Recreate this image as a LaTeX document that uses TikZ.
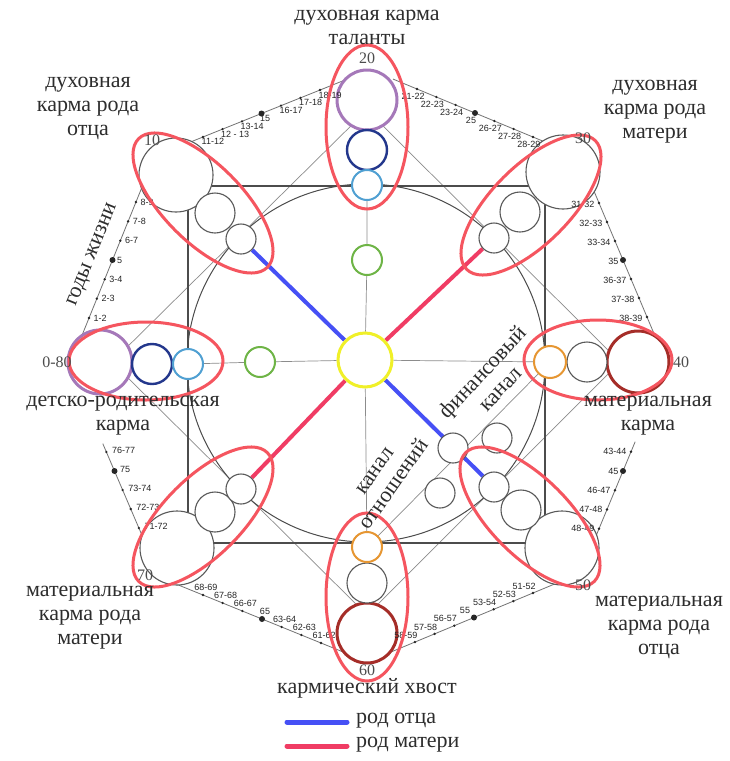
\documentclass[tikz,border=0pt]{standalone}
\usepackage{fontspec}
\setmainfont{Liberation Serif}
\newfontfamily\tickfont{Liberation Sans}
\usetikzlibrary{calc,backgrounds}
\definecolor{purpleC}{RGB}{165,120,185}
\definecolor{dblueC}{RGB}{35,55,140}
\definecolor{lblueC}{RGB}{80,160,210}
\definecolor{greenC}{RGB}{110,180,70}
\definecolor{orangeC}{RGB}{230,150,50}
\definecolor{dredC}{RGB}{165,45,40}
\definecolor{yellowC}{RGB}{240,240,40}
\definecolor{ellC}{RGB}{245,85,95}
\definecolor{blueL}{RGB}{70,80,245}
\definecolor{redL}{RGB}{240,60,100}
\definecolor{txtC}{RGB}{45,45,45}
\newcommand\edgeticks[4]{%
  \foreach \k/\t/\r in {#3}{%
    \fill[black!85] ($(#1)!\k/8!(#2)$) circle[radius=\r pt];
    \node[ticklab, #4] (#1l\k) at ($(#1)!\k/8!(#2)$) {\t};
  }%
}
\begin{document}
\begin{tikzpicture}[x=1pt,y=-1pt,
  cc/.style={circle, inner sep=0pt, fill=white},
  cgray/.style={cc, draw=black!65, line width=1.1pt},
  cpurple/.style={cc, draw=purpleC, line width=3pt},
  cdblue/.style={cc, draw=dblueC, line width=2.4pt},
  clblue/.style={cc, draw=lblueC, line width=2pt},
  cgreen/.style={cc, draw=greenC, line width=2pt},
  corange/.style={cc, draw=orangeC, line width=2pt},
  cdred/.style={cc, draw=dredC, line width=3pt},
  cyellow/.style={cc, draw=yellowC, line width=3pt},
  redell/.style={draw=ellC, line width=3pt},
  thinline/.style={draw=black!45, line width=0.7pt},
  edgeline/.style={draw=black!55, line width=0.8pt},
  sqline/.style={draw=black!70, line width=1.4pt},
  bigcirc/.style={draw=black!70, line width=1pt},
  bluethick/.style={draw=blueL, line width=4pt},
  redthick/.style={draw=redL, line width=4pt},
  ticklab/.style={font=\tickfont\fontsize{9}{10}\selectfont, inner sep=0.5pt, text=black!85},
  lab/.style={font=\fontsize{22}{24}\selectfont, align=center, text=txtC, inner sep=1pt},
  num/.style={font=\fontsize{16}{18}\selectfont, text=black!70, inner sep=1pt}
]
\useasboundingbox (0,0) rectangle (730,761);

% ---------- circles ----------
\node[cyellow, minimum size=54pt] (c) at (365,360) {};
% top (20)
\node[cpurple, minimum size=60pt] (t1) at (367,100) {};
\node[cdblue, minimum size=40pt] (t2) at (367,150) {};
\node[clblue, minimum size=30pt] (t3) at (367,185) {};
\node[cgreen, minimum size=30pt] (t4) at (367,260) {};
% left (0-80)
\node[cpurple, minimum size=64pt] (l1) at (100,362) {};
\node[cdblue, minimum size=40pt] (l2) at (152,364) {};
\node[clblue, minimum size=30pt] (l3) at (188,364) {};
\node[cgreen, minimum size=30pt] (l4) at (260,362) {};
% right (40)
\node[cdred, minimum size=62pt] (r1) at (638,362) {};
\node[cgray, minimum size=40pt] (r2) at (587,362) {};
\node[corange, minimum size=32pt] (r3) at (550,362) {};
% bottom (60)
\node[cdred, minimum size=60pt] (b1) at (367,633) {};
\node[cgray, minimum size=40pt] (b2) at (367,583) {};
\node[corange, minimum size=30pt] (b3) at (367,547) {};
% diagonals
\node[cgray, minimum size=74pt] (d10a) at (176,175) {};
\node[cgray, minimum size=40pt] (d10b) at (215,213) {};
\node[cgray, minimum size=30pt] (d10c) at (241,239) {};
\node[cgray, minimum size=74pt] (d30a) at (563,172) {};
\node[cgray, minimum size=40pt] (d30b) at (520,212) {};
\node[cgray, minimum size=30pt] (d30c) at (494,238) {};
\node[cgray, minimum size=74pt] (d50a) at (562,548) {};
\node[cgray, minimum size=40pt] (d50b) at (521,510) {};
\node[cgray, minimum size=30pt] (d50c) at (494,487) {};
\node[cgray, minimum size=74pt] (d70a) at (177,548) {};
\node[cgray, minimum size=40pt] (d70b) at (215,512) {};
\node[cgray, minimum size=30pt] (d70c) at (241,489) {};
% channel circles
\node[cgray, minimum size=30pt] (ch1) at (453,448) {};
\node[cgray, minimum size=30pt] (ch2) at (497,438) {};
\node[cgray, minimum size=30pt] (ch3) at (440,493) {};

% ---------- coordinates ----------
\coordinate (dl) at (112,362);
\coordinate (dt) at (367,110);
\coordinate (dr) at (620,362);
\coordinate (db) at (367,615);
\coordinate (sq1) at (188,186);
\coordinate (sq2) at (545,543);
\coordinate (oc) at (366,363);
\coordinate (e1a) at (81.2,337.3);  \coordinate (e1b) at (143.8,182.7);
\coordinate (e2a) at (183.5,144.8); \coordinate (e2b) at (339.5,82.2);
\coordinate (e3a) at (397.7,81);    \coordinate (e3b) at (552.3,145);
\coordinate (e4a) at (591,184);     \coordinate (e4b) at (655,336);
\coordinate (e5a) at (655,394);     \coordinate (e5b) at (591,548);
\coordinate (e6a) at (552.7,584.8); \coordinate (e6b) at (395.3,650.2);
\coordinate (e7a) at (340.7,651);   \coordinate (e7b) at (183.3,587);
\coordinate (e8a) at (147,547);     \coordinate (e8b) at (82,395);

\begin{pgfonlayer}{background}
  \fill[white] (0,0) rectangle (730,761);
  % octagon edges
  \draw[edgeline] ($(e1a)!-0.1!(e1b)$) -- ($(e1a)!1.1!(e1b)$);
  \draw[edgeline] ($(e2a)!-0.1!(e2b)$) -- ($(e2a)!1.03!(e2b)$);
  \draw[edgeline] ($(e3a)!-0.03!(e3b)$) -- ($(e3a)!1.1!(e3b)$);
  \draw[edgeline] ($(e4a)!-0.1!(e4b)$) -- ($(e4a)!1.1!(e4b)$);
  \draw[edgeline] ($(e5a)!0.31!(e5b)$) -- ($(e5a)!1.1!(e5b)$);
  \draw[edgeline] ($(e6a)!-0.1!(e6b)$) -- ($(e6a)!1.1!(e6b)$);
  \draw[edgeline] ($(e7a)!-0.1!(e7b)$) -- ($(e7a)!1.1!(e7b)$);
  \draw[edgeline] ($(e8a)!-0.1!(e8b)$) -- ($(e8a)!0.68!(e8b)$);
  % diamond
  \draw[thinline] (dl) -- (dt) -- (dr) -- (db) -- cycle;
  \draw[thinline] (b3) -- (r3);
  % square and circle
  \draw[sqline] (sq1) rectangle (sq2);
  \draw[bigcirc] (oc) circle[radius=179pt];
  % cross
  \draw[thinline] (l3) -- (l4) -- (c) -- (r3);
  \draw[thinline] (t3) -- (t4) -- (c) -- (b3);
  % diagonal lines
  \draw[bluethick] (c) -- (d10c);
  \draw[redthick] (c) -- (d30c);
  \draw[redthick] (c) -- (d70c);
  \draw[bluethick] (c) -- (d50c);
\end{pgfonlayer}

% ---------- ticks ----------
\edgeticks{e1a}{e1b}{1/1-2/1.3,2/2-3/1.3,3/3-4/1.3,4/5/3,5/6-7/1.3,6/7-8/1.3,7/8-9/1.3}{anchor=west, shift={(4,0)}}
\edgeticks{e2a}{e2b}{1/11-12/1.3,2/12 - 13/1.3,3/13-14/1.3,4/15/3,5/16-17/1.3,6/17-18/1.3,7/18-19/1.3}{anchor=north west, shift={(-2,1)}}
\edgeticks{e3a}{e3b}{1/21-22/1.3,2/22-23/1.3,3/23-24/1.3,4/25/3,5/26-27/1.3,6/27-28/1.3,7/28-29/1.3}{anchor=north, shift={(-4,4)}}
\edgeticks{e4a}{e4b}{1/31-32/1.3,2/32-33/1.3,3/33-34/1.3,4/35/3,5/36-37/1.3,6/37-38/1.3,7/38-39/1.3}{anchor=east, shift={(-4,1)}}
\edgeticks{e5a}{e5b}{3/43-44/1.3,4/45/3,5/46-47/1.3,6/47-48/1.3,7/48-49/1.3}{anchor=east, shift={(-4,0)}}
\edgeticks{e6a}{e6b}{1/51-52/1.3,2/52-53/1.3,3/53-54/1.3,4/55/3,5/56-57/1.3,6/57-58/1.3,7/58-59/1.3}{anchor=south, shift={(-9,-3)}}
\edgeticks{e7a}{e7b}{1/61-62/1.3,2/62-63/1.3,3/63-64/1.3,4/65/3,5/66-67/1.3,6/67-68/1.3,7/68-69/1.3}{anchor=south, shift={(3,-4)}}
\edgeticks{e8a}{e8b}{1/71-72/1.3,2/72-73/1.3,3/73-74/1.3,4/75/3,5/76-77/1.3}{anchor=west, shift={(5,-2)}}

% ---------- red ellipses ----------
\draw[redell] (367,127) ellipse [x radius=41pt, y radius=82pt];
\draw[redell] (146,361) ellipse [x radius=77pt, y radius=39pt];
\draw[redell] (598,360) ellipse [x radius=74pt, y radius=40pt];
\draw[redell] (367,597) ellipse [x radius=41pt, y radius=84pt];
\draw[redell, rotate around={-45:(203,203)}] (203,203) ellipse [x radius=91pt, y radius=39pt];
\draw[redell, rotate around={45:(531,205)}] (531,205) ellipse [x radius=91pt, y radius=39pt];
\draw[redell, rotate around={-45:(530,517)}] (530,517) ellipse [x radius=91pt, y radius=39pt];
\draw[redell, rotate around={45:(203,517)}] (203,517) ellipse [x radius=91pt, y radius=39pt];

% ---------- numbers ----------
\node[num] (n10) at (152,140) {10};
\node[num] (n20) at (367,58) {20};
\node[num] (n30) at (583,138) {30};
\node[num] (n40) at (681,362) {40};
\node[num] (n50) at (583,585) {50};
\node[num] (n60) at (367,670) {60};
\node[num] (n70) at (145,575) {70};
\node[num] (n80) at (57,362) {0-80};

% ---------- labels ----------
\node[lab] (tTop) at (367,27) {духовная карма\\таланты};
\node[lab] (tTL) at (88,108) {духовная\\карма рода\\отца};
\node[lab] (tTR) at (655,112) {духовная\\карма рода\\матери};
\node[lab] (tL) at (123,416) {детско-родительская\\карма};
\node[lab] (tR) at (648,416) {материальная\\карма};
\node[lab] (tBL) at (90,618) {материальная\\карма рода\\матери};
\node[lab] (tBR) at (659,627) {материальная\\карма рода\\отца};
\node[lab] (tB) at (367,688) {кармический хвост};
\node[lab, rotate=68] (tAge) at (93,255) {годы жизни};
\node[lab, rotate=47] (tFin) at (491,380) {финансовый\\канал};
\node[lab, rotate=55] (tRel) at (385,478) {канал\\отношений};

% ---------- legend ----------
\coordinate (lg1a) at (287,722); \coordinate (lg1b) at (347,722);
\coordinate (lg2a) at (287,746); \coordinate (lg2b) at (347,746);
\draw[draw=blueL, line width=5pt, line cap=round] (lg1a) -- (lg1b);
\draw[draw=redL, line width=5pt, line cap=round] (lg2a) -- (lg2b);
\node[lab, anchor=west] (lgt1) at (355,721) {род отца};
\node[lab, anchor=west] (lgt2) at (355,745) {род матери};
\end{tikzpicture}
\end{document}
